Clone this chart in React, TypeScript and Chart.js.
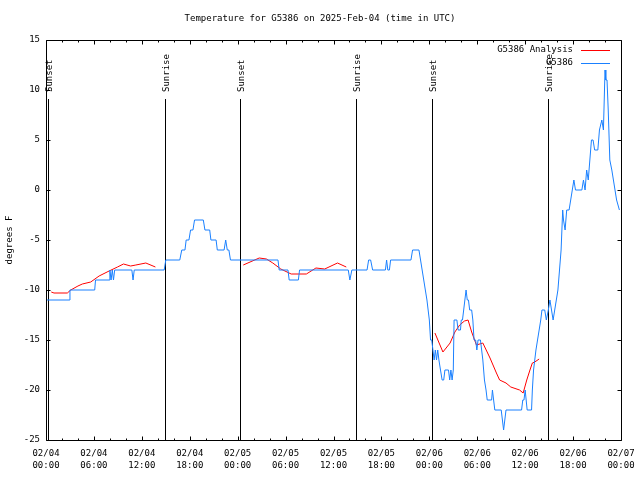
import React, { useEffect, useRef } from "react";
import { Chart, registerables } from "chart.js";

Chart.register(...registerables);

const TITLE = "Temperature for G5386 on 2025-Feb-04 (time in UTC)";
const Y_LABEL = "degrees F";
const SERIES_ANALYSIS = "G5386 Analysis";
const SERIES_OBS = "G5386";

// x axis: hours since 02/04 00:00 UTC
const X_MIN = 0;
const X_MAX = 72;
const X_DATES = ["02/04", "02/04", "02/04", "02/04", "02/05", "02/05", "02/05", "02/05", "02/06", "02/06", "02/06", "02/06", "02/07"];
const X_TIMES = ["00:00", "06:00", "12:00", "18:00", "00:00", "06:00", "12:00", "18:00", "00:00", "06:00", "12:00", "18:00", "00:00"];
const Y_MIN = -25;
const Y_MAX = 15;
const Y_STEP = 5;

const SUN_LABELS = ["Sunset", "Sunrise", "Sunset", "Sunrise", "Sunset", "Sunrise"];
const SUN_HOURS = [0.3, 14.88, 24.35, 38.85, 48.35, 62.85];

// Observed temperature (blue)
const OBS_HOURS = [
  0, 2.9, 3.0, 6.1, 6.2, 7.9, 8.0, 8.15, 8.3, 8.45, 8.6, 10.75, 10.9, 11.05, 14.8, 15.0,
  16.75, 17.0, 17.4, 17.55, 17.9, 18.1, 18.4, 18.6, 19.7, 19.9, 20.5, 20.65, 21.3, 21.45, 22.3, 22.5,
  22.7, 22.9, 23.1, 29.05, 29.2, 30.3, 30.45, 31.6, 31.75, 37.85, 38.05, 38.3, 40.2, 40.4,
  40.65, 40.9, 42.5, 42.65, 42.8, 43.0, 43.15, 45.7, 45.9, 46.7, 46.9, 47.1, 47.3, 47.5, 47.7, 47.85,
  48.0, 48.15, 48.3, 48.45, 48.6, 48.75, 48.9, 49.05, 49.2, 49.4, 49.6, 49.8, 49.95, 50.4, 50.55, 50.7,
  50.85, 51.0, 51.1, 51.45, 51.6, 51.9, 52.0, 52.15, 52.3, 52.45, 52.6, 52.75, 52.9, 53.05, 53.3, 53.45,
  53.6, 53.8, 53.95, 54.1, 54.4, 54.55, 54.7, 54.9, 55.1, 55.25, 55.8, 55.9, 56.05, 56.2, 57.0, 57.15,
  57.3, 57.45, 57.6, 59.55, 59.7, 59.85, 60.0, 60.1, 60.25, 60.8, 60.9, 61.05, 61.2, 61.35, 61.55, 61.75,
  61.95, 62.1, 62.45, 62.65, 62.9, 63.1, 63.3, 63.5, 63.7, 63.9, 64.1, 64.3, 64.5, 64.7, 64.8, 65.0,
  65.2, 65.5, 65.7, 65.9, 66.1, 66.3, 67.1, 67.3, 67.5, 67.7, 67.9, 68.1, 68.3, 68.5, 68.7, 69.1,
  69.3, 69.6, 69.8, 70.0, 70.1, 70.25, 70.4, 70.6, 70.85, 71.25, 71.45, 71.8,
];
const OBS_TEMPS = [
  -11, -11, -10, -10, -9, -9, -8, -9, -8, -9, -8, -8, -9, -8, -8, -7,
  -7, -6, -6, -5, -5, -4, -4, -3, -3, -4, -4, -5, -5, -6, -6, -5,
  -6, -6, -7, -7, -8, -8, -9, -9, -8, -8, -9, -8, -8, -7,
  -7, -8, -8, -7, -8, -8, -7, -7, -6, -6, -7, -8, -9, -10, -11, -12,
  -13, -15, -15, -16, -17, -16, -17, -16, -17, -18, -19, -19, -18, -18, -19, -18,
  -19, -18, -13, -13, -14, -14, -13, -13, -12, -11, -10, -11, -11, -12, -12, -13,
  -15, -15, -16, -15, -15, -16, -17, -19, -20, -21, -21, -20, -21, -22, -22, -23,
  -24, -23, -22, -22, -21, -21, -20, -20, -22, -22, -20, -18, -17, -16, -15, -14,
  -13, -12, -12, -13, -12, -11, -12, -13, -12, -11, -10, -8, -6, -2, -3, -4,
  -2, -2, -1, 0, 1, 0, 0, 1, 0, 2, 1, 3, 5, 5, 4, 4,
  6, 7, 6, 12, 11, 11, 8, 3, 2, 0, -1, -2,
];

// Analysis temperature (red); null = gap
const ANA_HOURS = [
  0.66, 1.0, 2.67, 3.1, 4.0, 4.55, 5.6, 6.65, 7.9, 8.95, 9.7, 10.6, 11.25, 12.5, 13.7,
  19.0,
  24.7, 26.7, 27.6, 28.4, 29.4, 30.7, 32.6, 33.8, 34.9, 36.5, 37.6,
  43.0,
  48.7, 49.7, 50.6, 51.2, 51.8, 52.4, 52.85, 53.3, 53.9, 54.7, 55.6, 56.4, 56.8, 57.6, 58.2, 59.3,
  59.75, 60.2, 60.6, 60.9, 61.2, 61.75,
];
const ANA_TEMPS = [
  -10.2, -10.3, -10.3, -10, -9.6, -9.4, -9.2, -8.6, -8.1, -7.7, -7.4, -7.6, -7.5, -7.3, -7.7,
  null,
  -7.5, -6.8, -6.9, -7.3, -7.9, -8.4, -8.4, -7.8, -7.9, -7.3, -7.7,
  null,
  -14.3, -16.2, -15.3, -14.2, -13.5, -13.1, -13, -14.2, -15.5, -15.3, -16.8, -18.3, -19, -19.3, -19.7, -20,
  -20.3, -19, -18, -17.3, -17.2, -16.9,
];

const FONT = '"DejaVu Sans Mono", "Liberation Mono", monospace';
const RED = "#ff0000";
const BLUE = "#1a80ff";

const overlay = {
  id: "overlay",
  beforeDatasetsDraw(chart: any) {
    const { ctx, chartArea: a } = chart;
    const x = chart.scales.x;
    ctx.save();
    ctx.strokeStyle = "#000";
    ctx.fillStyle = "#000";
    ctx.lineWidth = 1;
    ctx.font = `9px ${FONT}`;
    SUN_LABELS.forEach((lab, i) => {
      const px = Math.round(x.getPixelForValue(SUN_HOURS[i])) + 0.5;
      ctx.beginPath();
      ctx.moveTo(px, a.top + 59);
      ctx.lineTo(px, a.bottom);
      ctx.stroke();
      ctx.save();
      ctx.translate(px + 1, a.top + 52);
      ctx.rotate(-Math.PI / 2);
      ctx.textAlign = "left";
      ctx.textBaseline = "middle";
      ctx.fillText(lab, 0, 0);
      ctx.restore();
    });
    ctx.restore();
  },
  afterDatasetsDraw(chart: any) {
    const { ctx, chartArea: a } = chart;
    const xs = chart.scales.x;
    const ys = chart.scales.y;
    ctx.save();
    ctx.strokeStyle = "#000";
    ctx.fillStyle = "#000";
    ctx.lineWidth = 1;
    const L = Math.round(a.left) + 0.5;
    const R = Math.round(a.right) + 0.5;
    const T = Math.round(a.top) + 0.5;
    const B = Math.round(a.bottom) + 0.5;
    ctx.beginPath();
    ctx.rect(L, T, R - L, B - T);
    ctx.stroke();
    // ticks
    ctx.beginPath();
    xs.ticks.forEach((t: any) => {
      const px = Math.round(xs.getPixelForValue(t.value)) + 0.5;
      const len = t.value % 6 === 0 ? 4 : 2;
      ctx.moveTo(px, B);
      ctx.lineTo(px, B - len);
      ctx.moveTo(px, T);
      ctx.lineTo(px, T + len);
    });
    ys.ticks.forEach((t: any) => {
      const py = Math.round(ys.getPixelForValue(t.value)) + 0.5;
      ctx.moveTo(L, py);
      ctx.lineTo(L + 4, py);
      ctx.moveTo(R, py);
      ctx.lineTo(R - 4, py);
    });
    ctx.stroke();

    ctx.font = `9px ${FONT}`;
    // title
    ctx.textAlign = "center";
    ctx.textBaseline = "middle";
    ctx.fillText(TITLE, 320, 19);
    // y label
    ctx.save();
    ctx.translate(10, 240);
    ctx.rotate(-Math.PI / 2);
    ctx.fillText(Y_LABEL, 0, 0);
    ctx.restore();
    // legend
    ctx.textAlign = "right";
    const lx = a.right - 48;
    const items: [string, string][] = [
      [SERIES_ANALYSIS, RED],
      [SERIES_OBS, BLUE],
    ];
    items.forEach(([label, color], i) => {
      const ly = a.top + 10 + i * 12.5;
      ctx.fillStyle = "#000";
      ctx.fillText(label, lx, ly);
      ctx.strokeStyle = color;
      ctx.beginPath();
      ctx.moveTo(a.right - 40, Math.round(ly) + 0.5);
      ctx.lineTo(a.right - 11, Math.round(ly) + 0.5);
      ctx.stroke();
    });
    ctx.restore();
  },
};

export default function App() {
  const canvasRef = useRef<HTMLCanvasElement | null>(null);

  useEffect(() => {
    const canvas = canvasRef.current;
    if (!canvas) return;
    const obs = OBS_HOURS.map((h, i) => ({ x: h, y: OBS_TEMPS[i] }));
    const ana = ANA_HOURS.map((h, i) => ({ x: h, y: ANA_TEMPS[i] }));
    const chart = new Chart(canvas, {
      type: "line",
      data: {
        datasets: [
          {
            label: SERIES_ANALYSIS,
            data: ana as any,
            borderColor: RED,
            backgroundColor: RED,
            borderWidth: 1,
            pointRadius: 0,
            spanGaps: false,
            tension: 0,
            order: 1,
          },
          {
            label: SERIES_OBS,
            data: obs as any,
            borderColor: BLUE,
            backgroundColor: BLUE,
            borderWidth: 1,
            pointRadius: 0,
            tension: 0,
            order: 0,
          },
        ],
      },
      options: {
        responsive: false,
        animation: false,
        devicePixelRatio: 1,
        layout: { padding: { left: 0, right: 19, top: 40, bottom: 0 } },
        plugins: {
          legend: { display: false },
          tooltip: { enabled: false },
          title: { display: false },
        },
        scales: {
          x: {
            type: "linear",
            min: X_MIN,
            max: X_MAX,
            afterFit: (s: any) => {
              s.height = 40;
              s.paddingLeft = 0;
              s.paddingRight = 0;
            },
            grid: { display: false, drawTicks: false },
            border: { display: false },
            ticks: {
              stepSize: 2,
              autoSkip: false,
              maxRotation: 0,
              minRotation: 0,
              padding: 8,
              color: "#000",
              font: { family: FONT, size: 9, lineHeight: 1.34 },
              callback: (v: any) => {
                const n = Number(v);
                if (n % 6 !== 0) return "";
                const idx = n / 6;
                return [X_DATES[idx], X_TIMES[idx]];
              },
            },
          },
          y: {
            min: Y_MIN,
            max: Y_MAX,
            afterFit: (s: any) => {
              s.width = 46;
              s.paddingTop = 0;
              s.paddingBottom = 0;
            },
            grid: { display: false, drawTicks: false },
            border: { display: false },
            ticks: {
              stepSize: Y_STEP,
              padding: 6,
              color: "#000",
              font: { family: FONT, size: 9 },
            },
          },
        },
      },
      plugins: [overlay],
    });
    return () => chart.destroy();
  }, []);

  return (
    <div style={{ position: "fixed", left: 0, top: 0, width: 640, height: 480, background: "#fff" }}>
      <canvas ref={canvasRef} width={640} height={480} style={{ width: 640, height: 480 }} />
    </div>
  );
}
